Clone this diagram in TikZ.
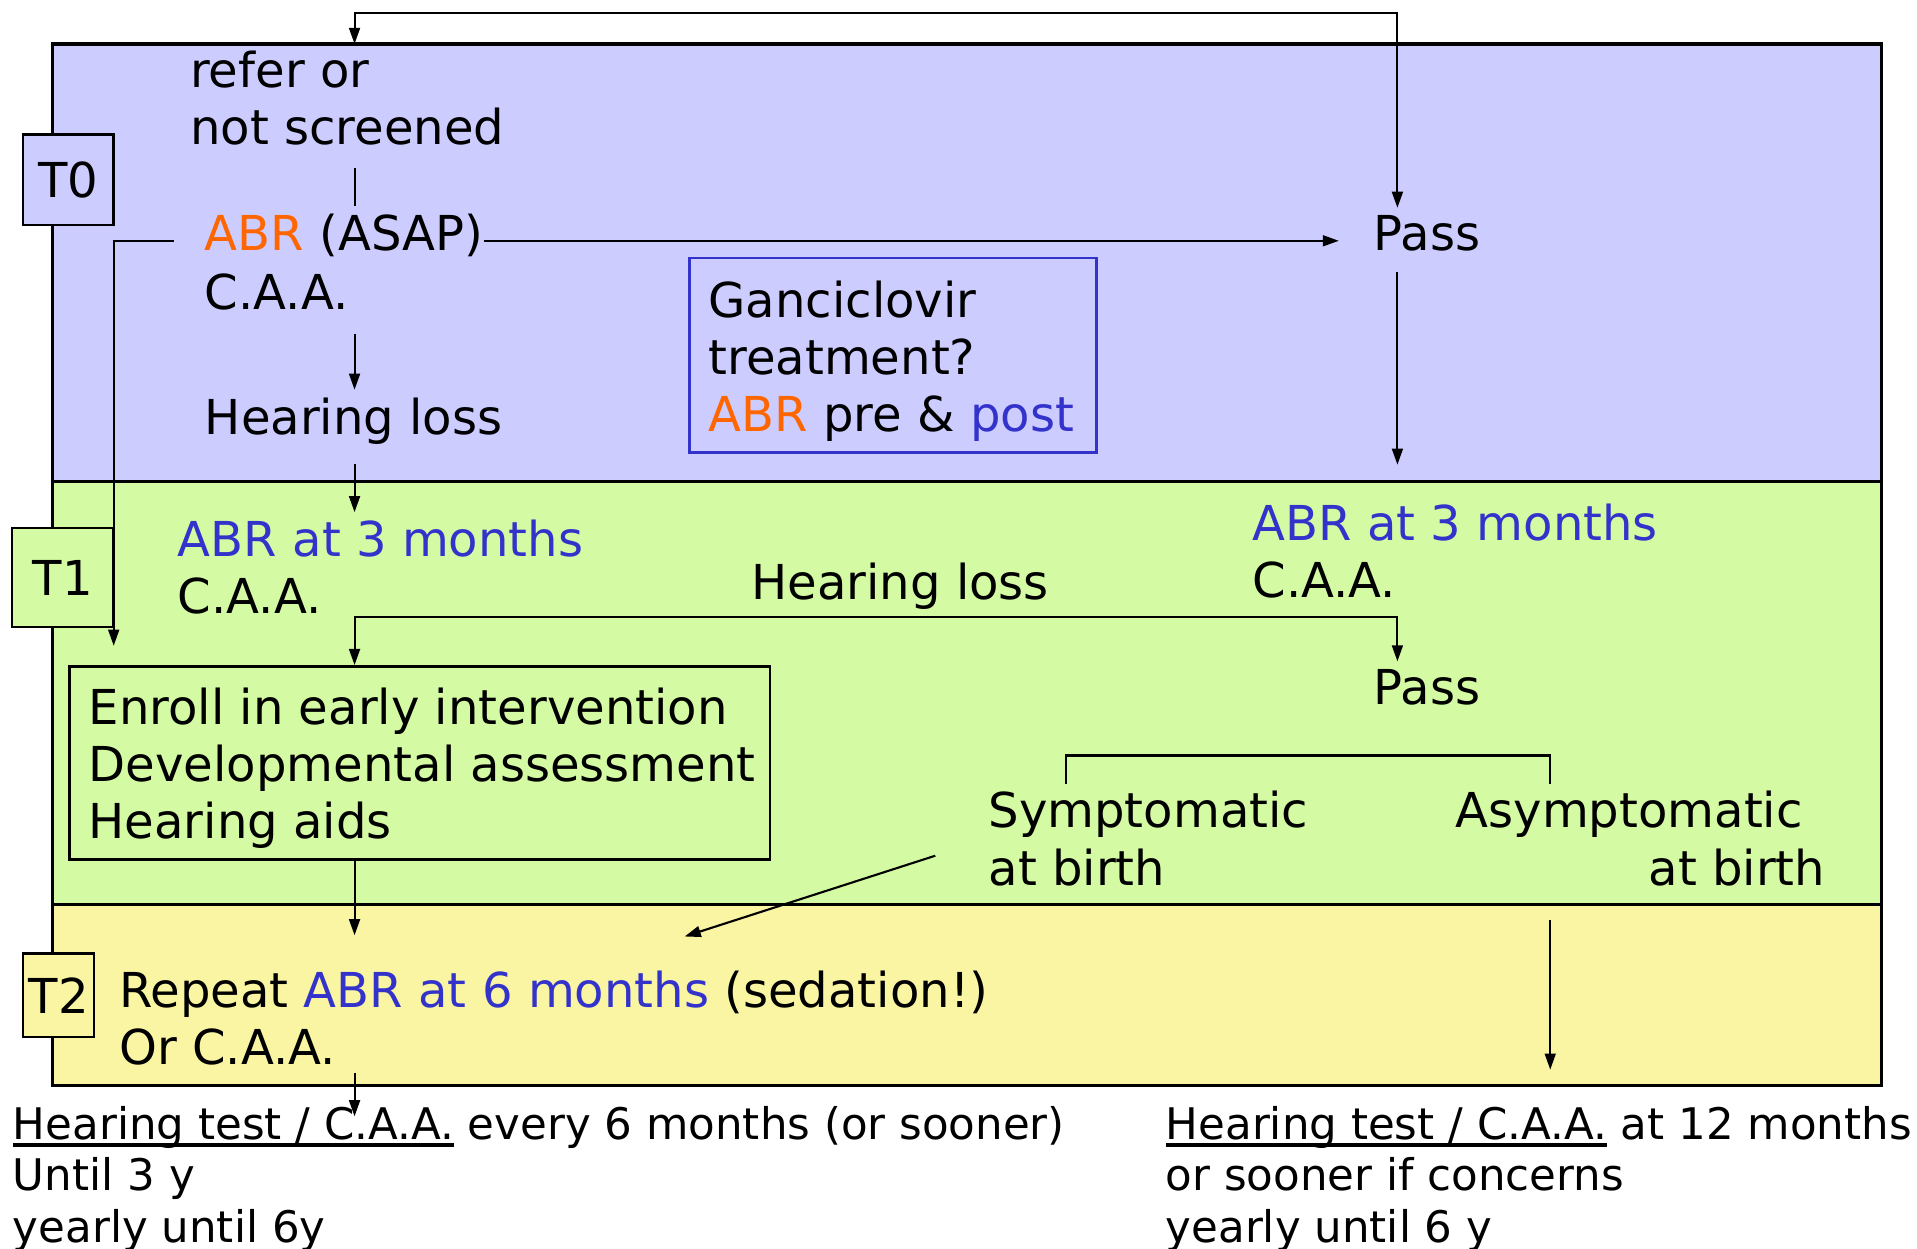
\documentclass[tikz,border=0pt]{standalone}
\usepackage{fontspec}
\setmainfont{DejaVu Sans}
\usetikzlibrary{arrows.meta,positioning,calc}
\definecolor{bandblue}{HTML}{CCCCFF}
\definecolor{bandgreen}{HTML}{D4FAA4}
\definecolor{bandyellow}{HTML}{FAF5A2}
\definecolor{abrorange}{HTML}{FF6600}
\definecolor{abrblue}{HTML}{3333CC}
\newcommand\mainsz{\fontsize{13.7pt}{16.3pt}\selectfont}
\newcommand\smallsz{\fontsize{12.4pt}{14.6pt}\selectfont}
\newcommand\ulbar[1]{\setbox0=\hbox{#1}\rlap{\rule[-2pt]{\wd0}{0.9pt}}\box0\relax}

\begin{document}
\begin{tikzpicture}[x=0.01223cm, y=-0.01223cm,
    band/.style={draw, line width=0.9pt},
    tbox/.style={draw, line width=0.7pt, inner sep=0pt, font=\mainsz},
    frame/.style={draw, line width=0.7pt, inner sep=0pt, anchor=north west},
    txt/.style={anchor=base west, align=left, inner xsep=0pt, inner ysep=2pt, font=\mainsz},
    arr/.style={-{Triangle[length=4.6pt,width=3.1pt]}, line width=0.6pt},
    darr/.style={{Triangle[length=4.6pt,width=3.1pt]}-{Triangle[length=4.6pt,width=3.1pt]}, line width=0.6pt},
    lnk/.style={line width=0.6pt}
  ]
  \useasboundingbox (0,0) rectangle (1568,1021);

  % time bands
  \draw[band, fill=bandblue] (43,36) rectangle (1539,394);
  \draw[band, fill=bandgreen] (43,394) rectangle (1539,740);
  \draw[band, fill=bandyellow] (43,740) rectangle (1539,888);

  \node[tbox, fill=bandblue, minimum width=0.905cm, minimum height=0.905cm] (tzero) at (56,147) {T0};
  \node[tbox, fill=bandgreen, minimum width=1.015cm, minimum height=0.99cm] (tone) at (51.5,472.5) {T1};
  \node[tbox, fill=bandyellow, minimum width=0.709cm, minimum height=0.832cm] (ttwo) at (48,814) {T2};

  \coordinate (colA) at (290,0);
  \coordinate (colB) at (1143,0);
  \coordinate (colC) at (1268,0);
  \coordinate (colD) at (93,0);
  \coordinate (colE) at (872,0);
  \coordinate (t0top) at (290,36);
  \coordinate (symtip) at (560,766);

  % T0 (multi-line nodes sit on the baseline of their last line)
  \node[txt] (refer) at (155,118) {refer or\\not screened};
  \node[txt] (abr0) at (167,205) {{\color{abrorange}ABR} (ASAP)};
  \node[txt] (caa0) at (167,253) {C.A.A.};
  \node[txt] (pass0) at (1123,205) {Pass};
  \node[txt] (hl0) at (167,355) {Hearing loss};
  \node[frame, draw=abrblue, minimum width=4.073cm, minimum height=1.945cm] (gan) at (563,210) {};
  \node[txt] (gantxt) at (579,353) {Ganciclovir\\treatment?\\{\color{abrorange}ABR} pre \& {\color{abrblue}post}};

  % T1
  \node[txt] (abr1) at (145,502) {{\color{abrblue}ABR at 3 months}\\C.A.A.};
  \node[txt] (hl1) at (614,490) {Hearing loss};
  \node[txt] (abr1r) at (1024,489) {{\color{abrblue}ABR at 3 months}\\C.A.A.};
  \node[frame, minimum width=7.008cm, minimum height=1.932cm] (enroll) at (56,544) {};
  \node[txt] (enrolltxt) at (72,686) {Enroll in early intervention\\Developmental assessment\\Hearing aids};
  \node[txt] (pass1) at (1123,576) {Pass};
  \node[txt] (sym) at (808,724) {Symptomatic\\at birth};
  \node[txt] (asym) at (1190,724) {Asymptomatic\\\hspace*{1.932cm}at birth};

  % T2 and follow-up
  \node[txt] (rep2) at (97,871) {Repeat {\color{abrblue}ABR at 6 months} (sedation!)\\Or C.A.A.};
  \node[txt, font=\smallsz] (hear2) at (10,1016) {\ulbar{Hearing test / C.A.A.} every 6 months (or sooner)\\Until 3 y\\yearly until 6y};
  \node[txt, font=\smallsz] (hear2r) at (953,1016) {\ulbar{Hearing test / C.A.A.} at 12 months\\or sooner if concerns\\yearly until 6 y};

  % connectors
  \draw[darr] (t0top) -- ++(0,-25) -| (pass0.north -| colB);
  \draw[lnk, shorten <=4.5pt] (refer.south -| colA) -- (abr0.north -| colA);
  \draw[arr, shorten >=9.7pt] ([yshift=-1.5pt]abr0.east) -- ([yshift=-1.5pt]abr0.east -| pass0.west);
  \draw[arr, shorten <=4.5pt] (caa0.south -| colA) -- (hl0.north -| colA);
  \draw[arr, shorten <=3.5pt] (hl0.south -| colA) -- (abr1.north -| colA);
  \draw[arr, shorten <=3.8pt, shorten >=9pt] (pass0.south -| colB) -- (abr1r.north -| colB);
  \draw[arr, shorten <=8.7pt, shorten >=5.5pt] ([yshift=-1.5pt]abr0.west) -| (enroll.north -| colD);
  \draw[darr] (enroll.north -| colA) |- (hl1.south) -| (pass1.north -| colB);
  \draw[arr, shorten >=8pt] (enroll.south -| colA) -- (rep2.north -| colA);
  \draw[arr] ([shift={(-43,14)}]sym.west) -- (symtip);
  \draw[lnk] (sym.north -| colE) -- ++(0,-23) -| (asym.north -| colC);
  \draw[arr, shorten <=7.6pt, shorten >=8.3pt] (asym.south -| colC) -- (hear2r.north -| colC);
  \draw[arr, shorten >=-5pt] (rep2.south -| colA) -- (hear2.north -| colA);
\end{tikzpicture}
\end{document}
